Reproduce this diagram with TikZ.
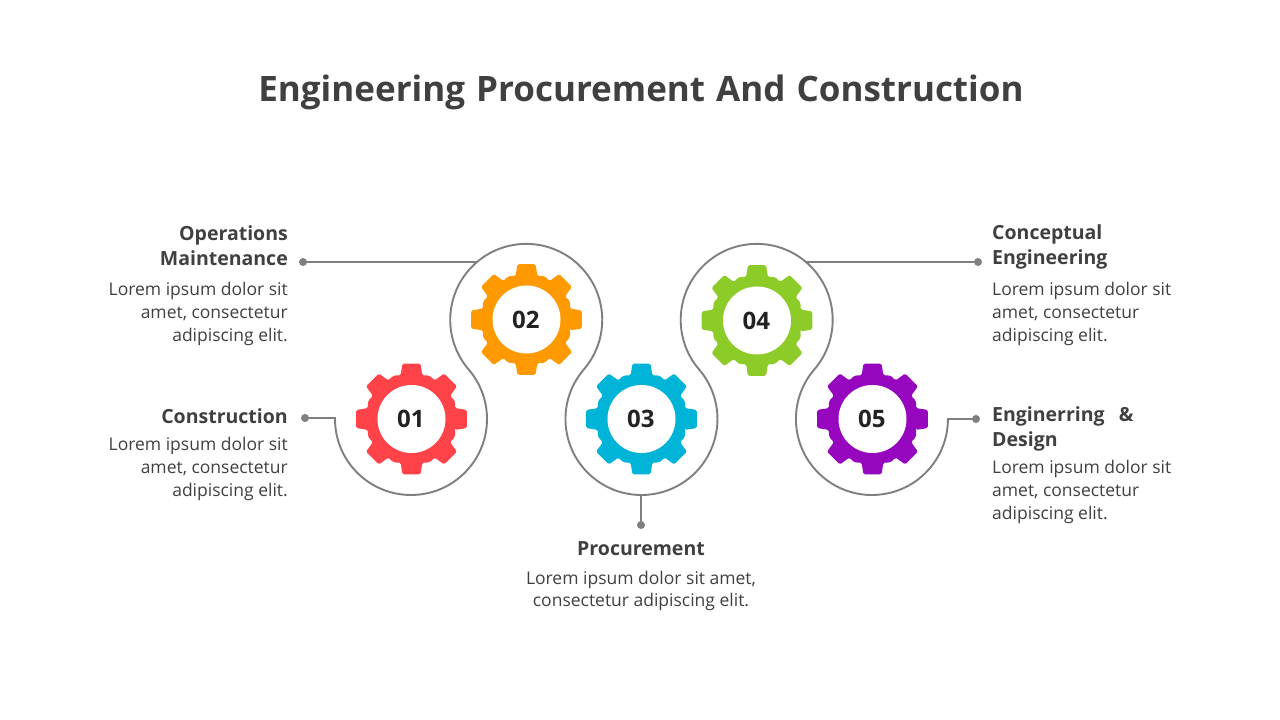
\documentclass[tikz,border=0pt]{standalone}
\usepackage{fontspec}
\setmainfont{Open Sans}
\usetikzlibrary{calc}
\definecolor{txt}{HTML}{404040}
\definecolor{wave}{HTML}{7F7F7F}
\definecolor{numc}{HTML}{222222}
\definecolor{g1}{HTML}{FF4348}
\definecolor{g2}{HTML}{FF9900}
\definecolor{g3}{HTML}{00B4D8}
\definecolor{g4}{HTML}{8CCB28}
\definecolor{g5}{HTML}{9506BE}
\tikzset{
  x=1pt,y=1pt,
  wavel/.style={draw=wave,line width=1.9pt},
  dotn/.style={circle,fill=wave,inner sep=0pt,minimum size=8pt},
  titlet/.style={text=txt,font=\fontsize{35}{42}\selectfont\bfseries,inner sep=0pt},
  head/.style={text=txt,font=\fontsize{19.5}{25}\selectfont\bfseries,inner sep=0pt},
  body/.style={text=txt,font=\fontsize{17.5}{22.6}\selectfont,inner sep=0pt},
  num/.style={text=numc,font=\fontsize{24}{26}\selectfont\bfseries,inner sep=0pt},
}
\newcommand{\gearat}[4]{%
  \fill[#2,rounded corners=1.5pt,shift={(#1)}]
    (-14:45)
    \foreach \a in {0,45,...,315}{
      -- (\a-14:45) -- (\a-9.3:56) -- (\a+9.3:56) -- (\a+14:45)
      -- (\a+22.5:47)
    } -- cycle;
  \fill[white,shift={(#1)}] (0,0) circle (34);
  \node[num] (#3) at ($(#1)+(-0.6,0)$) {#4};}
\begin{document}
\begin{tikzpicture}
\useasboundingbox (0,0) rectangle (1280,720);
\fill[white] (0,0) rectangle (1280,720);
\node[titlet] (title) at (641,627.5) {Engineering\hspace{2pt} Procurement\hspace{2pt} And\hspace{2pt} Construction};
% end points
\node[dotn] (d1) at (305,302) {};
\node[dotn] (d2) at (303,458) {};
\node[dotn] (d3) at (641,195) {};
\node[dotn] (d4) at (978,458) {};
\node[dotn] (d5) at (976,301) {};
\coordinate (w1) at (335,302);
\coordinate (w5) at (948.5,301);
\coordinate (b2) at (477,458);
\coordinate (b3) at (641,225);
\coordinate (b4) at (806,458);
% wave
\draw[wavel] (d1.center) -- (w1) -- (335,301)
  arc[start angle=180,end angle=400.7,radius=76]
  arc[start angle=220.7,end angle=-40.7,radius=76]
  arc[start angle=139.3,end angle=400.7,radius=76]
  arc[start angle=220.7,end angle=-40.7,radius=76]
  arc[start angle=139.3,end angle=360,radius=76]
  -- (w5) -- (d5.center);
\draw[wavel] (d2.center) -- (b2);
\draw[wavel] (d3.center) -- (b3);
\draw[wavel] (d4.center) -- (b4);
% gears
\gearat{411.5,301}{g1}{n1}{01}
\gearat{526.5,400.5}{g2}{n2}{02}
\gearat{641.5,301}{g3}{n3}{03}
\gearat{757,399.5}{g4}{n4}{04}
\gearat{872.5,301}{g5}{n5}{05}
% texts
\node[head,anchor=east,align=right] (h2) at (288,474) {Operations\\Maintenance};
\node[body,anchor=east,align=right] (t2) at (288,406) {Lorem ipsum dolor sit\\amet, consectetur\\adipiscing elit.};
\node[head,anchor=east,align=right] (h1) at (288,304) {Construction};
\node[body,anchor=east,align=right] (t1) at (288,251) {Lorem ipsum dolor sit\\amet, consectetur\\adipiscing elit.};
\node[head,align=center] (h3) at (641,171) {Procurement};
\node[body,align=center] (t3) at (641,129) {Lorem ipsum dolor sit amet,\\consectetur adipiscing elit.};
\node[head,anchor=west,align=left] (h4) at (992,473) {Conceptual\\Engineering};
\node[body,anchor=west,align=left] (t4) at (992,406) {Lorem ipsum dolor sit\\amet, consectetur\\adipiscing elit.};
\node[head,anchor=west,align=left] (h5) at (992,291) {Enginerring\hspace{9pt} \&\\Design};
\node[body,anchor=west,align=left] (t5) at (992,228) {Lorem ipsum dolor sit\\amet, consectetur\\adipiscing elit.};
\end{tikzpicture}
\end{document}
